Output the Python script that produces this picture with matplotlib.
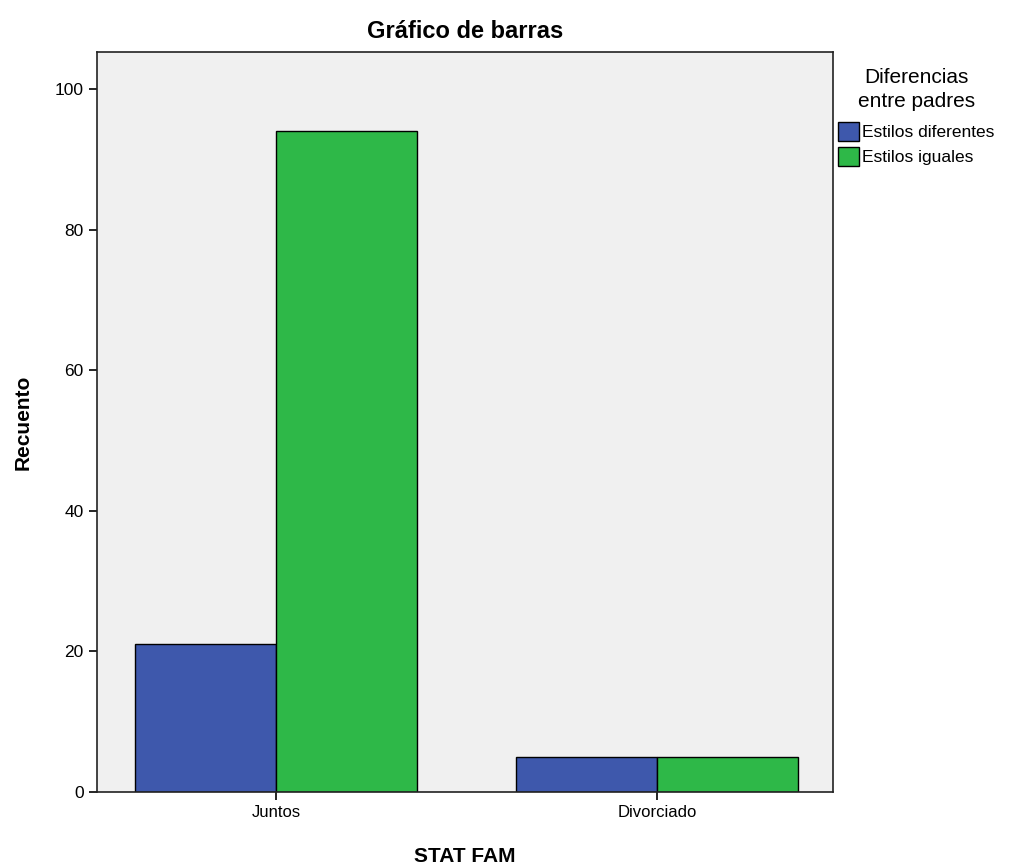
import numpy as np
import matplotlib
matplotlib.use("Agg")
import matplotlib.pyplot as plt
from matplotlib.patches import Patch

categories = ["Juntos", "Divorciado"]
series = ["Estilos diferentes", "Estilos iguales"]
diferentes = [21, 5]
iguales = [94, 5]
colors = ["#3e58ac", "#2eb848"]

plt.rcParams["font.family"] = ["Liberation Sans", "DejaVu Sans"]

fig = plt.figure(figsize=(10.17, 8.67), dpi=100)
ax = fig.add_axes([0.0954, 0.0865, 0.7237, 0.8535])
ax.set_facecolor("#f0f0f0")

x = np.arange(len(categories))
w = 0.37
ax.bar(x - w / 2, diferentes, w, color=colors[0], edgecolor="black", linewidth=1)
ax.bar(x + w / 2, iguales, w, color=colors[1], edgecolor="black", linewidth=1)

ax.set_xlim(-0.47, 1.462)
ax.set_ylim(0, 105.3)
ax.set_xticks(x)
ax.set_xticklabels(categories, fontsize=12)
ax.set_yticks([0, 20, 40, 60, 80, 100])
ax.tick_params(axis="y", labelsize=12.5, length=6, width=1.2)
ax.tick_params(axis="x", length=6, width=1.2)
for s in ax.spines.values():
    s.set_linewidth(1.2)
    s.set_color("#222222")

ax.set_title("Gráfico de barras", fontsize=17, fontweight="bold", pad=10)
ax.set_ylabel("Recuento", fontsize=15, fontweight="bold", labelpad=16)
ax.set_xlabel("STAT FAM", fontsize=15, fontweight="bold", labelpad=19)

handles = [Patch(facecolor=c, edgecolor="black", label=l) for c, l in zip(colors, series)]
leg = fig.legend(handles=handles, title="Diferencias\nentre padres", loc="upper left",
                 bbox_to_anchor=(0.824, 0.922), frameon=False, fontsize=12.5,
                 title_fontsize=15, handlelength=1.2, handleheight=1.3,
                 handletextpad=0.2, labelspacing=0.35, borderaxespad=0, borderpad=0)
leg.get_title().set_multialignment("center")
leg.get_title().set_linespacing(1.35)
leg._legend_box.sep = 8

fig.savefig("out.png", dpi=100)
